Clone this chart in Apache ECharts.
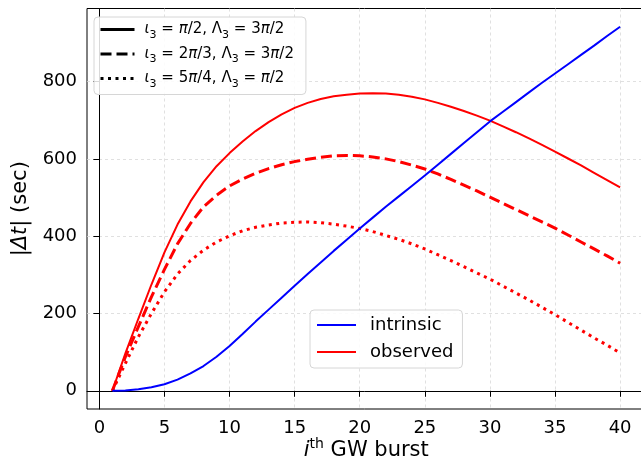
<!DOCTYPE html>
<html>
<head>
<meta charset="utf-8">
<script src="https://cdn.jsdelivr.net/npm/echarts@6/dist/echarts.min.js"></script>
<style>
html,body{margin:0;padding:0;background:#fff;}
#c{width:641px;height:460px;}
</style>
</head>
<body>
<div id="c"></div>
<script>
// ---- data ----
const bursts = [1,2,3,4,5,6,7,8,9,10,11,12,13,14,15,16,17,18,19,20,21,22,23,24,25,26,27,28,29,30,31,32,33,34,35,36,37,38,39,40];
const intrinsic = [0,1,4,9,17,29,45,64,88,116,147,179,210,241,272,302,332,362,391,420,448,476,503,530,557,585,613,641,669,697,722,747,772,797,821,845,869,893,918,942];
const observedSolid = [0,97,187,275,358,430,490,540,581,615,645,672,695,715,732,745,755,762,766,769,770,769,766,761,754,745,735,724,712,699,684,669,653,636,619,601,583,564,545,526];
const observedDashed = [0,88,166,243,314,380,433,476,506,530,548,563,575,585,593,599,604,608,609,608,605,600,593,584,574,561,547,532,517,501,485,469,453,437,421,403,385,367,349,330];
const observedDotted = [0,71,140,200,256,302,337,364,385,401,414,423,429,434,436,437,435,431,426,420,412,402,392,380,367,352,337,321,305,289,271,253,235,216,197,177,157,137,118,98];
const xTicks = [0,5,10,15,20,25,30,35,40];
const yTicks = [0,200,400,600,800];
const caseNames = ['case1','case2','case3'];
const caseLabels = [
  '{g|ι}{s|3}{n| = }{g|π}{n|/2, }{u|Λ}{s|3}{n| = 3}{g|π}{n|/2}',
  '{g|ι}{s|3}{n| = 2}{g|π}{n|/3, }{u|Λ}{s|3}{n| = 3}{g|π}{n|/2}',
  '{g|ι}{s|3}{n| = 5}{g|π}{n|/4, }{u|Λ}{s|3}{n| = }{g|π}{n|/2}'
];

const pairs = ys => bursts.map((x, i) => [x, ys[i]]);
const FONT = 'DejaVu Sans';

const chart = echarts.init(document.getElementById('c'), null, {renderer: 'canvas'});
const legendLabelMap = {};
caseNames.forEach((n, i) => legendLabelMap[n] = caseLabels[i]);

chart.setOption({
  animation: false,
  backgroundColor: '#fff',
  textStyle: {fontFamily: FONT},
  grid: {
    left: 87, top: 8.5, right: -4.5, bottom: 51,
    outerBoundsMode: 'none', containLabel: false,
    show: true, borderColor: '#000', borderWidth: 1, backgroundColor: 'transparent'
  },
  xAxis: {
    type: 'value', min: -0.95, max: 41.95,
    axisLine: {show: true, lineStyle: {color: '#000', width: 1}},
    axisTick: {show: true, customValues: xTicks, length: 6, lineStyle: {color: '#000', width: 1}},
    axisLabel: {customValues: xTicks, color: '#000', fontSize: 18, fontFamily: FONT, margin: 10},
    splitLine: {show: true, lineStyle: {color: '#d8d8d8', width: 0.8, type: [3, 3]}},
    name: '{i|i}{sup|th}{n| GW burst}',
    nameLocation: 'middle', nameGap: 28, nameMoveOverlap: false,
    nameTextStyle: {
      color: '#000', fontFamily: FONT,
      rich: {
        i: {fontSize: 21, fontStyle: 'italic', fontFamily: FONT, color: '#000', lineHeight: 24, verticalAlign: 'bottom'},
        sup: {fontSize: 14, fontFamily: FONT, color: '#000', lineHeight: 14, verticalAlign: 'top'},
        n: {fontSize: 21, fontFamily: FONT, color: '#000', lineHeight: 24, verticalAlign: 'bottom'}
      }
    }
  },
  yAxis: {
    type: 'value', min: -47.1, max: 989.1,
    axisLine: {show: true, lineStyle: {color: '#000', width: 1}},
    axisTick: {show: true, customValues: yTicks, length: 6, lineStyle: {color: '#000', width: 1}},
    axisLabel: {customValues: yTicks, color: '#000', fontSize: 18, fontFamily: FONT, margin: 10},
    splitLine: {show: true, lineStyle: {color: '#d8d8d8', width: 0.8, type: [3, 3]}},
    name: '{n||}{it|Δt}{n|| (sec)}',
    nameLocation: 'middle', nameGap: 56, nameMoveOverlap: false,
    nameTextStyle: {
      color: '#000', fontFamily: FONT,
      rich: {
        n: {fontSize: 21, fontFamily: FONT, color: '#000'},
        it: {fontSize: 21, fontFamily: FONT, fontStyle: 'italic', color: '#000'}
      }
    }
  },
  legend: [
    {
      data: caseNames,
      left: 94, top: 17,
      orient: 'vertical',
      itemWidth: 34, itemHeight: 14, itemGap: 6,
      padding: [5, 12, 5, 5],
      backgroundColor: 'rgba(255,255,255,0.85)',
      borderColor: '#d6d6d6', borderWidth: 1, borderRadius: 4,
      lineStyle: {width: 3},
      itemStyle: {opacity: 0},
      selectedMode: false,
      formatter: name => legendLabelMap[name],
      textStyle: {
        fontFamily: FONT, color: '#000', padding: [0, 0, 0, 5],
        rich: {
          n: {fontSize: 15, fontFamily: FONT, color: '#000', lineHeight: 18, verticalAlign: 'middle'},
          g: {fontSize: 15, fontFamily: FONT, fontStyle: 'italic', color: '#000', lineHeight: 18, verticalAlign: 'middle'},
          u: {fontSize: 15, fontFamily: FONT, color: '#000', lineHeight: 18, verticalAlign: 'middle'},
          s: {fontSize: 11, fontFamily: FONT, color: '#000', lineHeight: 11, verticalAlign: 'bottom', padding: [0, 0, -2, 0]}
        }
      }
    },
    {
      data: ['intrinsic', 'observed'],
      left: 310, top: 310,
      orient: 'vertical',
      itemWidth: 39, itemHeight: 14, itemGap: 9,
      padding: [6, 9, 7, 6],
      backgroundColor: 'rgba(255,255,255,0.85)',
      borderColor: '#d6d6d6', borderWidth: 1, borderRadius: 4,
      lineStyle: {width: 2},
      itemStyle: {opacity: 0},
      selectedMode: false,
      textStyle: {fontFamily: FONT, color: '#000', fontSize: 18, padding: [0, 0, 0, 9]}
    }
  ],
  series: [
    {name: 'case1', type: 'line', data: [], symbol: 'none', color: '#000', lineStyle: {color: '#000', width: 3, type: 'solid'}},
    {name: 'case2', type: 'line', data: [], symbol: 'none', color: '#000', lineStyle: {color: '#000', width: 3, type: [11, 5]}},
    {name: 'case3', type: 'line', data: [], symbol: 'none', color: '#000', lineStyle: {color: '#000', width: 3, type: [3, 4.5]}},
    {name: 'observed', type: 'line', data: pairs(observedSolid), symbol: 'none', color: '#ff0000',
     lineStyle: {color: '#ff0000', width: 2}},
    {name: 'observedDashed', type: 'line', data: pairs(observedDashed), symbol: 'none', color: '#ff0000',
     lineStyle: {color: '#ff0000', width: 3, type: [11, 5], cap: 'butt'}},
    {name: 'observedDotted', type: 'line', data: pairs(observedDotted), symbol: 'none', color: '#ff0000',
     lineStyle: {color: '#ff0000', width: 3, type: [3, 4.5], cap: 'butt'}},
    {name: 'intrinsic', type: 'line', data: pairs(intrinsic), symbol: 'none', color: '#0000ff',
     lineStyle: {color: '#0000ff', width: 2}}
  ]
});
</script>
</body>
</html>
